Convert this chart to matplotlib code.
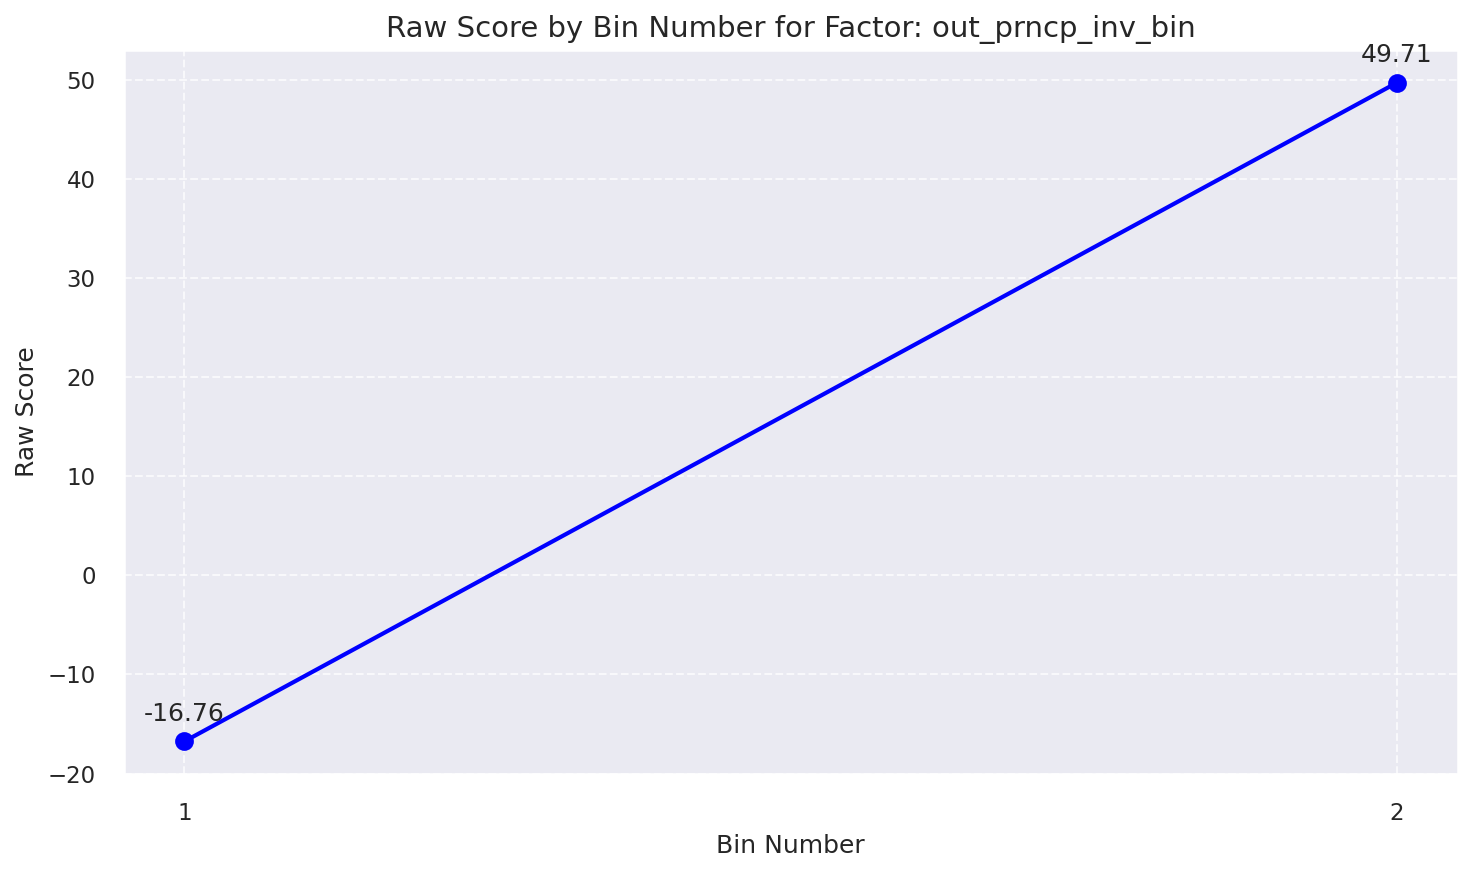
import matplotlib
matplotlib.use("Agg")
import matplotlib.pyplot as plt
import seaborn as sns

bins = [1, 2]
raw_scores = [-16.76, 49.71]
factor = "out_prncp_inv_bin"

sns.set_theme(style="darkgrid")
plt.rcParams["font.family"] = ["DejaVu Sans"]

fig, ax = plt.subplots(figsize=(9.82, 5.82), dpi=150)
fig.subplots_adjust(left=0.084, right=0.9895, top=0.943, bottom=0.113)
ax.plot(bins, raw_scores, marker="o", color="blue", linewidth=2, markersize=8)
for x, y in zip(bins, raw_scores):
    ax.annotate(f"{y:.2f}", (x, y), textcoords="offset points", xytext=(0, 10),
                ha="center", fontsize=12)

ax.set_title(f"Raw Score by Bin Number for Factor: {factor}", fontsize=14)
ax.set_xlabel("Bin Number", fontsize=12)
ax.set_ylabel("Raw Score", fontsize=12)
ax.set_xticks(bins)
ax.tick_params(pad=7.5)
ax.grid(True, linestyle="--", alpha=0.7)

fig.savefig("out.png", dpi=150)
